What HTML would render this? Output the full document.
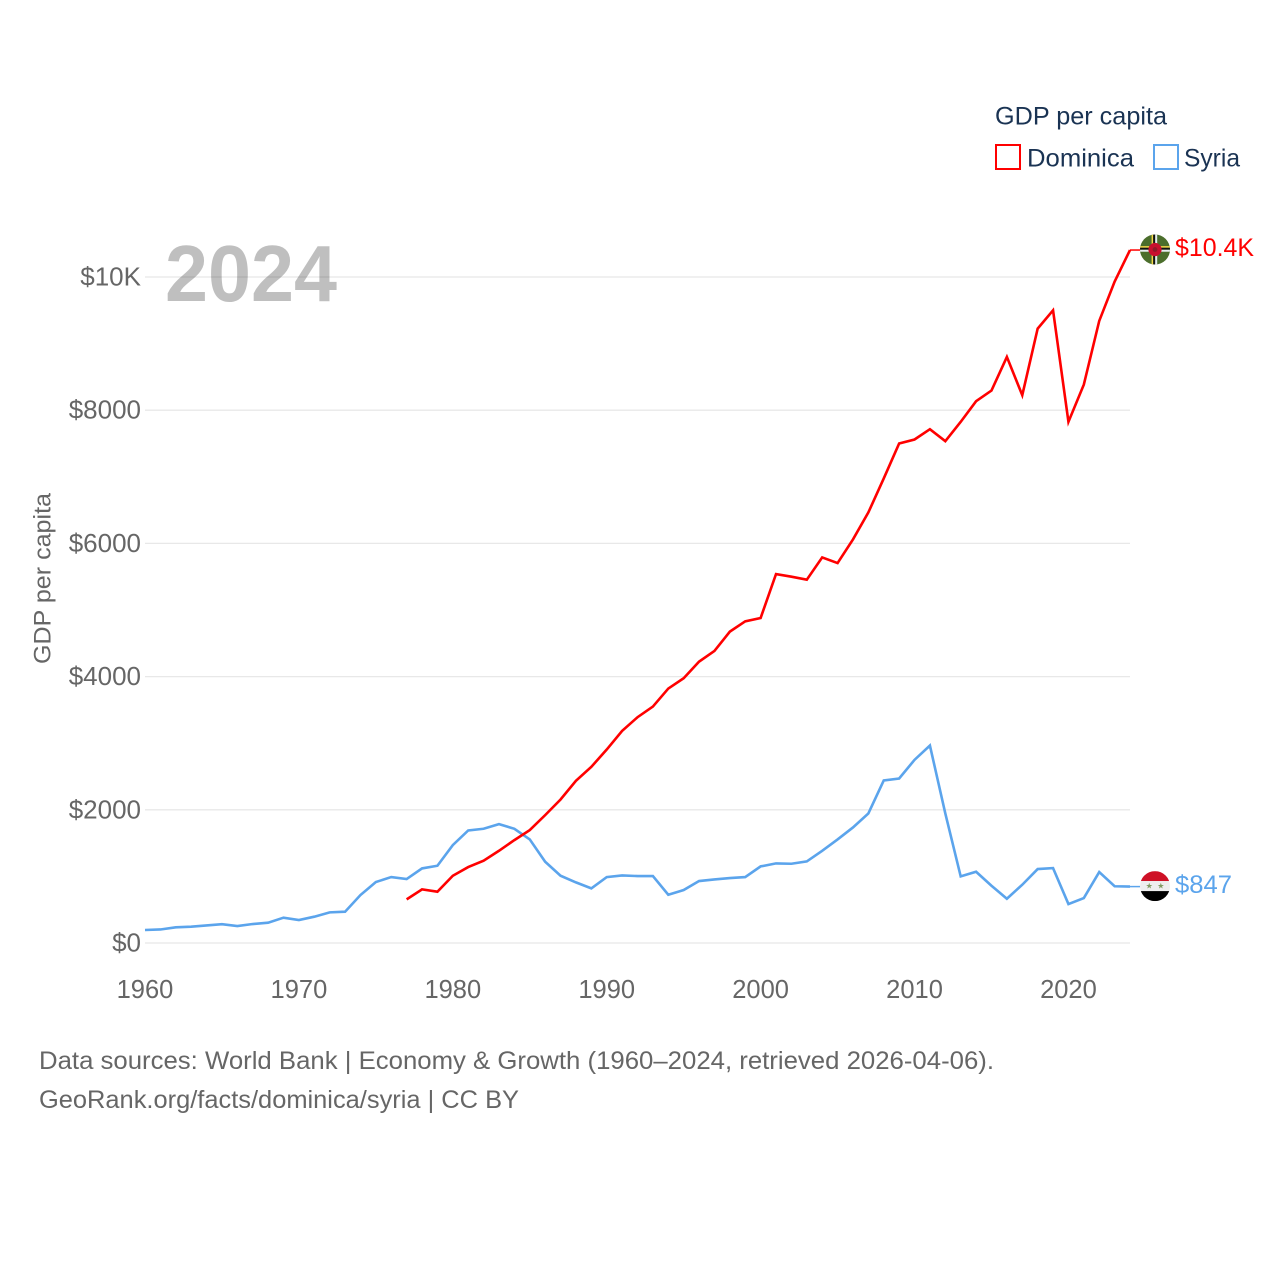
<!DOCTYPE html>
<html lang="en">
<head>
<meta charset="utf-8">
<title>GDP per capita: Dominica and Syria</title>
<style>
html,body{margin:0;padding:0;background:#fff;width:1280px;height:1280px;overflow:hidden}
svg{display:block;font-family:"Liberation Sans",sans-serif}
</style>
</head>
<body>
<svg id="chart" xmlns="http://www.w3.org/2000/svg" width="1280" height="1280" viewBox="0 0 1280 1280">
  <rect width="1280" height="1280" fill="#fff"/>
  <g id="grid"></g>
  <g id="yticks"></g>
  <g id="xticks"></g>
  <text x="165" y="301" font-size="80" font-weight="700" fill="#000" fill-opacity="0.25" textLength="172" lengthAdjust="spacingAndGlyphs">2024</text>
  <text transform="translate(50.5,664) rotate(-90)" font-size="24.5" fill="#666" textLength="171" lengthAdjust="spacingAndGlyphs">GDP per capita</text>
  <g id="series"></g>

  <clipPath id="flag-clip-dm"><circle cx="0" cy="0" r="15"/></clipPath>
  <clipPath id="flag-clip-sy"><circle cx="0" cy="0" r="15"/></clipPath>
  <g id="flag-dominica" clip-path="url(#flag-clip-dm)">
    <rect x="-15" y="-15" width="30" height="30" fill="#4b6e2c"/>
    <rect x="-15" y="-3.4" width="30" height="1.6" fill="#f4d84a"/>
    <rect x="-15" y="-1.8" width="30" height="2" fill="#111"/>
    <rect x="-15" y="0.2" width="30" height="2" fill="#e6eef0"/>
    <rect x="-3.4" y="-15" width="1.6" height="30" fill="#f4d84a"/>
    <rect x="-1.8" y="-15" width="2" height="30" fill="#111"/>
    <rect x="0.2" y="-15" width="2" height="30" fill="#e6eef0"/>
    <circle r="6.6" fill="#c8102e"/>
    <circle r="2.4" fill="#8f1a2a"/>
  </g>
  <g id="flag-syria" clip-path="url(#flag-clip-sy)">
    <rect x="-15" y="-15" width="30" height="10" fill="#ce1126"/>
    <rect x="-15" y="-5" width="30" height="10" fill="#eee"/>
    <rect x="-15" y="5" width="30" height="10" fill="#000"/>
    <text x="-5.8" y="2.6" font-size="8" fill="#7f9a60" text-anchor="middle">★</text>
    <text x="5.8" y="2.6" font-size="8" fill="#7f9a60" text-anchor="middle">★</text>
  </g>
  <text id="label-dominica" x="1175" font-size="25" fill="#ff0000" textLength="79" lengthAdjust="spacingAndGlyphs">$10.4K</text>
  <text id="label-syria" x="1175" font-size="25" fill="#5ba4ec" textLength="57" lengthAdjust="spacingAndGlyphs">$847</text>

  <g>
    <text x="995" y="124.5" font-size="25" fill="#1a3353" textLength="172" lengthAdjust="spacingAndGlyphs">GDP per capita</text>
    <g>
      <rect x="996" y="145" width="24" height="24" fill="none" stroke="#ff0000" stroke-width="2"/>
      <text x="1027" y="166.5" font-size="25" fill="#1a3353" textLength="107" lengthAdjust="spacingAndGlyphs">Dominica</text>
    </g>
    <g>
      <rect x="1154" y="145" width="24" height="24" fill="none" stroke="#5ba4ec" stroke-width="2"/>
      <text x="1184" y="166.5" font-size="25" fill="#1a3353" textLength="56" lengthAdjust="spacingAndGlyphs">Syria</text>
    </g>
  </g>

  <text x="39" y="1069" font-size="25" fill="#666" textLength="955" lengthAdjust="spacingAndGlyphs">Data sources: World Bank | Economy &amp; Growth (1960–2024, retrieved 2026-04-06).</text>
  <text x="39" y="1108" font-size="25" fill="#666" textLength="480" lengthAdjust="spacingAndGlyphs">GeoRank.org/facts/dominica/syria | CC BY</text>
</svg>
<script>
const years = [1960,1961,1962,1963,1964,1965,1966,1967,1968,1969,1970,1971,1972,1973,1974,1975,1976,1977,1978,1979,1980,1981,1982,1983,1984,1985,1986,1987,1988,1989,1990,1991,1992,1993,1994,1995,1996,1997,1998,1999,2000,2001,2002,2003,2004,2005,2006,2007,2008,2009,2010,2011,2012,2013,2014,2015,2016,2017,2018,2019,2020,2021,2022,2023,2024];
const syriaValues = [195,203,235,245,263,282,255,285,305,380,345,395,460,470,720,915,990,960,1120,1160,1470,1690,1715,1785,1715,1555,1220,1010,910,820,990,1015,1005,1005,725,795,930,955,975,990,1150,1195,1190,1225,1385,1555,1735,1945,2440,2470,2750,2965,1945,1000,1070,860,665,875,1110,1125,585,675,1065,852,847];
const dominicaValues = [null,null,null,null,null,null,null,null,null,null,null,null,null,null,null,null,null,655,805,770,1010,1140,1235,1385,1545,1695,1920,2155,2435,2645,2905,3185,3390,3550,3820,3975,4225,4385,4675,4830,4880,5540,5500,5455,5790,5705,6060,6465,6975,7500,7560,7715,7535,7825,8135,8295,8800,8225,9225,9500,7825,8385,9340,9930,10405];
const yTickValues = [0,2000,4000,6000,8000,10000];
const yTickLabels = ["$0","$2000","$4000","$6000","$8000","$10K"];
const xTickValues = [1960,1970,1980,1990,2000,2010,2020];

const NS = "http://www.w3.org/2000/svg";
function xScale(year){ return 145 + (year - 1960) * (985 / 64); }
function yScale(value){ return 943 - value * 0.0666; }

const gridGroup = document.getElementById("grid");
const yTickGroup = document.getElementById("yticks");
const xTickGroup = document.getElementById("xticks");
const seriesGroup = document.getElementById("series");

yTickValues.forEach(function(value, i){
  const line = document.createElementNS(NS, "line");
  
  
  line.setAttribute("x1", xScale(1960));
  line.setAttribute("x2", xScale(2024));
  line.setAttribute("y1", yScale(value));
  line.setAttribute("y2", yScale(value));
  line.setAttribute("stroke", "#e8e8e8");
  line.setAttribute("stroke-width", "1.3");
  gridGroup.appendChild(line);

  const label = document.createElementNS(NS, "text");
  
  
  label.setAttribute("x", 141);
  label.setAttribute("y", yScale(value) + 8.5);
  label.setAttribute("text-anchor", "end");
  label.setAttribute("font-size", "26");
  label.setAttribute("fill", "#666");
  label.textContent = yTickLabels[i];
  yTickGroup.appendChild(label);
});

xTickValues.forEach(function(year){
  const label = document.createElementNS(NS, "text");
  
  
  label.setAttribute("x", xScale(year));
  label.setAttribute("y", 998);
  label.setAttribute("text-anchor", "middle");
  label.setAttribute("font-size", "25.5");
  label.setAttribute("fill", "#666");
  label.textContent = String(year);
  xTickGroup.appendChild(label);
});

function linePoints(values){
  const points = [];
  values.forEach(function(value, i){
    if (value !== null) points.push(xScale(years[i]).toFixed(2) + "," + yScale(value).toFixed(2));
  });
  return points.join(" ");
}

const syriaLine = document.createElementNS(NS, "polyline");


syriaLine.setAttribute("points", linePoints(syriaValues));
syriaLine.setAttribute("fill", "none");
syriaLine.setAttribute("stroke", "#5ba4ec");
syriaLine.setAttribute("stroke-width", "2.6");
syriaLine.setAttribute("stroke-linejoin", "miter");
seriesGroup.appendChild(syriaLine);

const dominicaLine = document.createElementNS(NS, "polyline");


dominicaLine.setAttribute("points", linePoints(dominicaValues));
dominicaLine.setAttribute("fill", "none");
dominicaLine.setAttribute("stroke", "#ff0000");
dominicaLine.setAttribute("stroke-width", "2.6");
dominicaLine.setAttribute("stroke-linejoin", "miter");
seriesGroup.appendChild(dominicaLine);

const syriaLast = yScale(syriaValues[syriaValues.length - 1]);
const dominicaLast = yScale(dominicaValues[dominicaValues.length - 1]);

const syriaConnector = document.createElementNS(NS, "line");


syriaConnector.setAttribute("x1", xScale(2024));
syriaConnector.setAttribute("x2", 1140);
syriaConnector.setAttribute("y1", syriaLast);
syriaConnector.setAttribute("y2", syriaLast);
syriaConnector.setAttribute("stroke", "#5ba4ec");
syriaConnector.setAttribute("stroke-width", "1.5");
seriesGroup.appendChild(syriaConnector);

const dominicaConnector = document.createElementNS(NS, "line");


dominicaConnector.setAttribute("x1", xScale(2024));
dominicaConnector.setAttribute("x2", 1140);
dominicaConnector.setAttribute("y1", dominicaLast);
dominicaConnector.setAttribute("y2", dominicaLast);
dominicaConnector.setAttribute("stroke", "#ff0000");
dominicaConnector.setAttribute("stroke-width", "1.5");
seriesGroup.appendChild(dominicaConnector);

document.getElementById("flag-dominica").setAttribute("transform", "translate(1155," + (dominicaLast - 0.5) + ")");
document.getElementById("flag-syria").setAttribute("transform", "translate(1155," + (syriaLast - 0.5) + ")");
document.getElementById("label-dominica").setAttribute("y", dominicaLast + 6);
document.getElementById("label-syria").setAttribute("y", syriaLast + 6.4);
</script>
</body>
</html>
